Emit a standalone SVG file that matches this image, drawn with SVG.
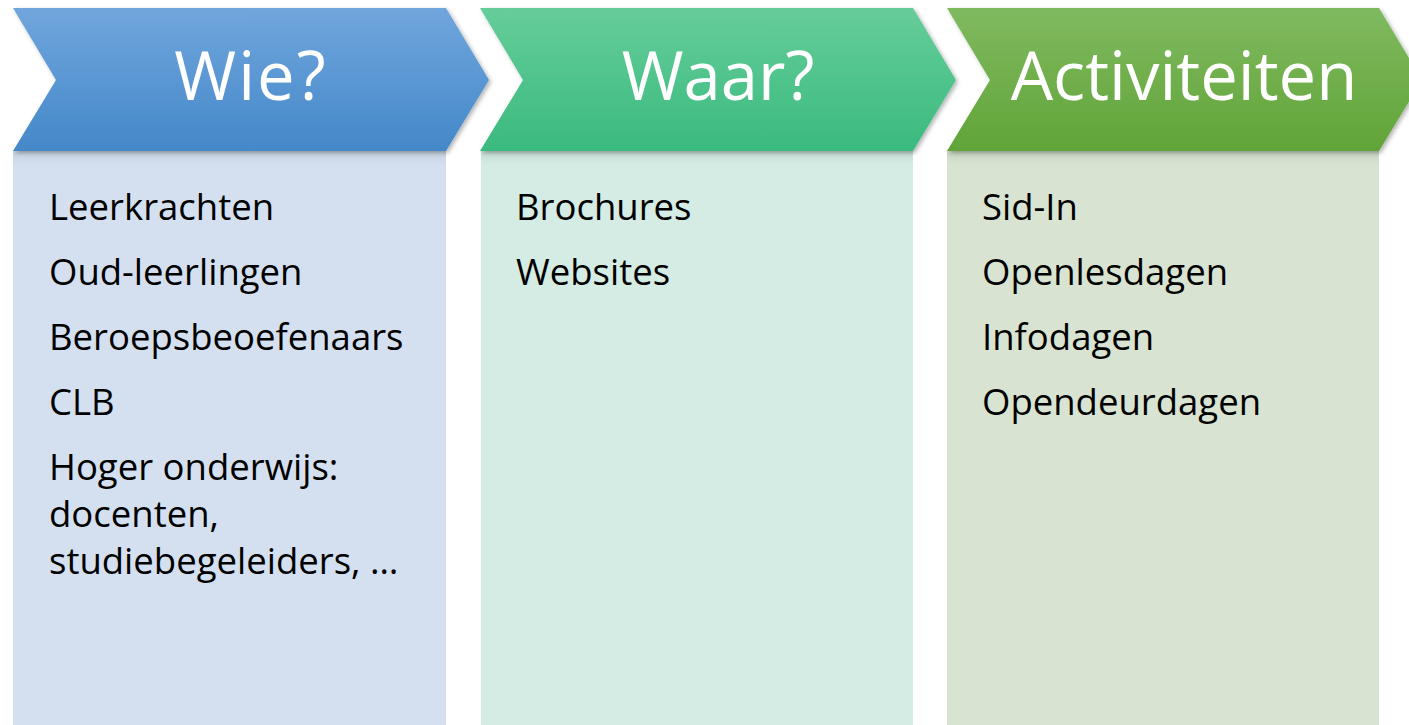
<svg xmlns="http://www.w3.org/2000/svg" width="1409" height="725" viewBox="0 0 1409 725">
<defs>
<linearGradient id="gBlue" x1="0" y1="0" x2="0" y2="1"><stop offset="0" stop-color="#71a6dd"/><stop offset="1" stop-color="#4488c9"/></linearGradient>
<linearGradient id="gGreen" x1="0" y1="0" x2="0" y2="1"><stop offset="0" stop-color="#66cd9a"/><stop offset="1" stop-color="#3aba7f"/></linearGradient>
<linearGradient id="gLeaf" x1="0" y1="0" x2="0" y2="1"><stop offset="0" stop-color="#80ba60"/><stop offset="1" stop-color="#61a438"/></linearGradient>
<linearGradient id="shade" x1="0" y1="0" x2="0" y2="1"><stop offset="0" stop-color="#000" stop-opacity="0.07"/><stop offset="1" stop-color="#000" stop-opacity="0"/></linearGradient>
<filter id="ds" x="-10%" y="-10%" width="120%" height="130%"><feDropShadow dx="2" dy="2" stdDeviation="2" flood-color="#000" flood-opacity="0.3"/></filter>
</defs>
<style>
.hdr{font-family:"Open Sans","Noto Sans",sans-serif;font-size:67px;fill:#fff;text-anchor:middle}
.itm{font-family:"Open Sans","Noto Sans",sans-serif;font-size:36.5px;fill:#000}
</style>
<rect width="1409" height="725" fill="#fff"/>
<g id="col-wie">
<rect x="13" y="151" width="433" height="574" fill="#d4e0ef"/>
<rect x="13" y="151" width="433" height="14" fill="url(#shade)"/>
<polygon points="13,8 446,8 489,80 446,151 13,151 56,80" fill="url(#gBlue)" filter="url(#ds)"/>
<text class="hdr" x="251" y="100" letter-spacing="2">Wie?</text>
<text class="itm" x="49" y="220">Leerkrachten</text>
<text class="itm" x="49" y="285">Oud-leerlingen</text>
<text class="itm" x="49" y="350">Beroepsbeoefenaars</text>
<text class="itm" x="49" y="415">CLB</text>
<text class="itm" x="49" y="480">Hoger onderwijs:</text>
<text class="itm" x="49" y="527">docenten,</text>
<text class="itm" x="49" y="574">studiebegeleiders, …</text>
</g>
<g id="col-waar">
<rect x="481" y="151" width="432" height="574" fill="#d4ece3"/>
<rect x="481" y="151" width="432" height="14" fill="url(#shade)"/>
<polygon points="480,8 913,8 956,80 913,151 480,151 523,80" fill="url(#gGreen)" filter="url(#ds)"/>
<text class="hdr" x="718" y="100">Waar?</text>
<text class="itm" x="516" y="220">Brochures</text>
<text class="itm" x="516" y="285">Websites</text>
</g>
<g id="col-activiteiten">
<rect x="947" y="151" width="432" height="574" fill="#d8e4d1"/>
<rect x="947" y="151" width="432" height="14" fill="url(#shade)"/>
<polygon points="947,8 1379,8 1422,80 1379,151 947,151 990,80" fill="url(#gLeaf)" filter="url(#ds)"/>
<text class="hdr" x="1184" y="100">Activiteiten</text>
<text class="itm" x="982" y="220">Sid-In</text>
<text class="itm" x="982" y="285">Openlesdagen</text>
<text class="itm" x="982" y="350">Infodagen</text>
<text class="itm" x="982" y="415">Opendeurdagen</text>
</g>
<g id="connectors"/>
</svg>
